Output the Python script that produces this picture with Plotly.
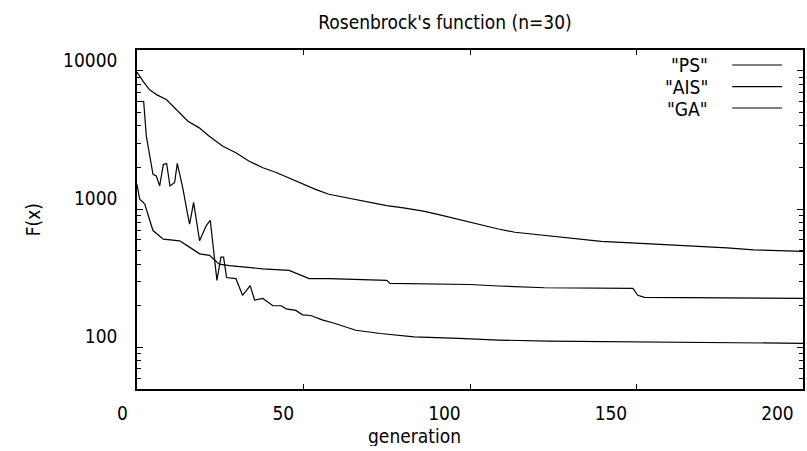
import plotly.graph_objects as go

# ---- data ----
ps_gen = [0, 1, 2, 3.8, 6, 8.9, 12.3, 15.3, 18.7, 21.7, 25.8, 29.7, 33.7, 37.8, 41.8,
          45.7, 49.7, 53.6, 57.6, 62, 66, 70, 75, 80, 86, 90, 95, 100, 104, 108.5,
          113.5, 122.4, 132.4, 139.4, 148.3, 158.3, 165.3, 177.2, 185.2, 200]
ps_val = [9800, 9000, 8300, 7300, 6700, 6180, 5090, 4320, 3870, 3370, 2850, 2560, 2220,
          1990, 1840, 1680, 1510, 1390, 1280, 1220, 1170, 1120, 1060, 1020, 968, 920,
          860, 800, 760, 718, 680, 645, 606, 585, 570, 555, 540, 524, 508, 495]

ais_gen = [0, 2, 2.8, 4.8, 5.8, 6.8, 7.9, 8.9, 9.9, 11.3, 12.1, 13.8, 15.3, 15.8, 17,
           18.8, 20.8, 22, 24, 25.2, 26, 26.9, 29.7, 31.7, 34, 35.3, 37.8, 40.8, 43.3,
           44.8, 47.7, 49.7, 52.2, 55.6, 59, 65.7, 73.1, 83.2, 96.7, 108.5, 123.6,
           157.3, 200]
ais_val = [6000, 6000, 3370, 1785, 1740, 1470, 2100, 2140, 1470, 1560, 2140, 1400, 890,
           780, 1120, 590, 760, 830, 305, 450, 450, 320, 314, 238, 280, 220, 226, 200,
           200, 190, 185, 172, 170, 158, 150, 133, 126, 119, 116, 113, 111, 109, 107]

ga_gen = [0, 0.8, 2.3, 4.8, 7.9, 12.8, 15.3, 18.8, 21.8, 24.7, 27.7, 31.8, 37.8, 45.7,
          49.7, 51.7, 57.6, 75, 76, 100, 108.5, 122.4, 148.9, 150.4, 152.4, 200]
ga_val = [1510, 1180, 1090, 700, 606, 590, 540, 475, 463, 400, 390, 380, 370, 360, 330,
          314, 314, 305, 290, 285, 278, 270, 267, 238, 230, 226]

series_names = ['"PS"', '"AIS"', '"GA"']
x_ticks = [0, 50, 100, 150, 200]
y_ticks = [100, 1000, 10000]
y_minor_ticks = [60, 70, 80, 90, 200, 300, 400, 500, 600, 700, 800, 900,
                 2000, 3000, 4000, 5000, 6000, 7000, 8000, 9000]

title_text = "Rosenbrock's function (n=30)"
x_title = "generation"
y_title = "F(x)"

FONT = "DejaVu Sans Condensed, Liberation Sans, Arial, sans-serif"
FS = 19

fig = go.Figure()
for name, gx, gy in [(series_names[0], ps_gen, ps_val),
                     (series_names[1], ais_gen, ais_val),
                     (series_names[2], ga_gen, ga_val)]:
    fig.add_trace(go.Scatter(x=gx, y=gy, mode="lines", name=name,
                             line=dict(color="black", width=1.2),
                             showlegend=False))

# plot area in pixels: left 137, right 805, top 50, bottom 389
L, R, T, B = 137, 2, 50, 62
W, H = 807, 451
pw = W - L - R
ph = H - T - B

def px_x(px):
    return (px - L) / pw

def px_y(py):
    return (H - B - py) / ph

# manual gnuplot-style key (text then line sample)
rows = [65, 86.7, 108]
for name, ry in zip(series_names, rows):
    fig.add_annotation(x=px_x(711), y=px_y(ry), xref="paper", yref="paper",
                       text=name, showarrow=False, xanchor="right", yanchor="middle",
                       height=19, valign="middle", borderpad=0,
                       font=dict(family=FONT, size=FS, color="black"))
    fig.add_shape(type="line", xref="paper", yref="paper",
                  x0=px_x(734), x1=px_x(784), y0=px_y(ry), y1=px_y(ry),
                  line=dict(color="black", width=1.2))

# axis titles placed like the reference
fig.add_annotation(x=px_x(415), y=px_y(436), xref="paper", yref="paper",
                   text=x_title, showarrow=False, xanchor="center", yanchor="middle",
                   height=20, valign="middle", borderpad=0,
                   font=dict(family=FONT, size=FS, color="black"))
fig.add_annotation(x=px_x(33), y=px_y(220), xref="paper", yref="paper",
                   text=y_title, showarrow=False, textangle=-90,
                   xanchor="center", yanchor="middle",
                   font=dict(family=FONT, size=FS, color="black"))

fig.update_layout(
    width=W, height=H,
    margin=dict(l=L, r=R, t=T, b=B, pad=0),
    paper_bgcolor="white", plot_bgcolor="white",
    font=dict(family=FONT, size=FS, color="black"),
    title=dict(text=title_text, x=445 / W, xanchor="center",
               y=1 - 22 / H, yanchor="middle", xref="container", yref="container",
               font=dict(family=FONT, size=FS, color="black")),
    showlegend=False,
)

fig.update_xaxes(
    range=[0, 200], tickmode="array", tickvals=x_ticks,
    ticktext=[str(t) for t in x_ticks],
    ticks="inside", ticklen=5, tickcolor="black", tickwidth=1,
    showline=True, linecolor="black", linewidth=1.5, mirror="allticks",
    showgrid=False, zeroline=False,
    ticklabelposition="outside left", ticklabelshift=-8, ticklabelstandoff=6,
)
fig.update_yaxes(
    type="log", range=[1.699, 4.1508], tickmode="array", tickvals=y_ticks,
    ticktext=[str(t) for t in y_ticks],
    ticks="inside", ticklen=6, tickcolor="black", tickwidth=1,
    showline=True, linecolor="black", linewidth=1.5, mirror="allticks",
    showgrid=False, zeroline=False,
    minor=dict(tickmode="array", tickvals=y_minor_ticks, ticks="inside",
               ticklen=4, tickcolor="black", tickwidth=1, showgrid=False),
    ticklabelposition="outside top", ticklabelshift=3, ticklabelstandoff=14,
)

fig.write_html("out.html")
